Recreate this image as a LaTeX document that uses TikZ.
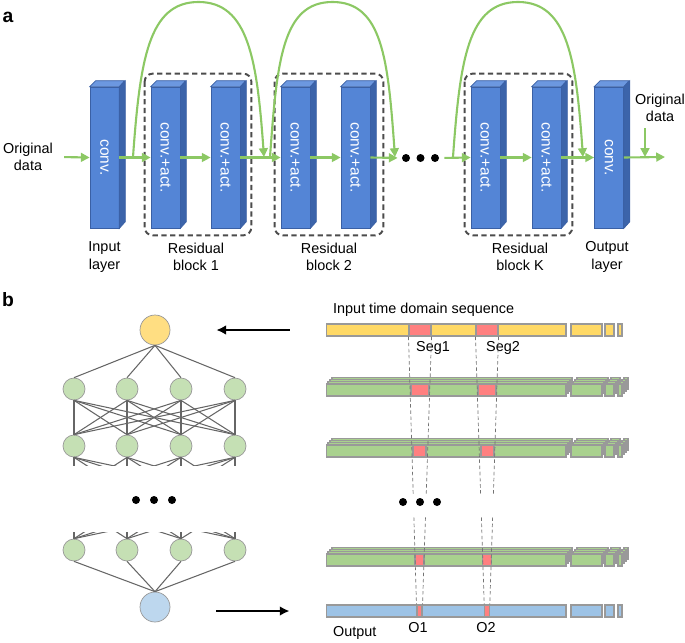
\documentclass[tikz,border=0pt]{standalone}
\usepackage{fontspec}
\setmainfont{Liberation Sans}
\usetikzlibrary{arrows.meta,calc}

\definecolor{blockfront}{RGB}{84,133,214}
\definecolor{blocktop}{RGB}{108,152,224}
\definecolor{blockside}{RGB}{60,100,170}
\definecolor{blockedge}{RGB}{58,96,165}
\definecolor{flowgreen}{RGB}{140,200,100}
\definecolor{unitgreen}{RGB}{197,224,180}
\definecolor{unitblue}{RGB}{189,215,238}
\definecolor{unityellow}{RGB}{255,222,130}
\definecolor{baryellow}{RGB}{255,217,102}
\definecolor{bargreen}{RGB}{169,209,142}
\definecolor{barblue}{RGB}{157,195,230}
\definecolor{barred}{RGB}{255,128,128}

\newcommand{\vlabel}[1]{\rotatebox{-90}{#1}}

\begin{document}
\begin{tikzpicture}[x=0.02cm,y=-0.02cm,
  every node/.style={font=\fontsize{8.2}{10}\selectfont},
  layer/.style={draw=blockedge,fill=blockfront,text=white,inner sep=0,
    minimum width=0.58cm,minimum height=2.82cm,font=\fontsize{8.8}{10}\selectfont},
  flow/.style={draw=flowgreen,line width=1.2pt,-{Triangle[length=5pt,width=5pt]}},
  resbox/.style={draw=black!70,line width=1.1pt,dash pattern=on 3pt off 2pt,rounded corners=4.5pt},
  unit/.style={circle,draw=black!40,fill=unitgreen,minimum size=0.44cm,inner sep=0},
  edge/.style={draw=black!60,line width=0.6pt},
  bigarrow/.style={draw=black,line width=1.4pt,-{Latex[length=5.5pt,width=5.5pt]}},
  bar/.style={draw=black!40,line width=0.6pt,inner sep=0,minimum height=0.24cm},
  rseg/.style={bar,fill=barred},
  guide/.style={draw=black!55,line width=0.4pt,dash pattern=on 2pt off 1.5pt}]
  \useasboundingbox (0,0) rectangle (685,642);

  % ---------------- a ----------------
  \node[font=\bfseries\fontsize{11}{12}\selectfont] (la) at (8,17) {a};

  \node[layer] (inl) at (104.5,157.5) {\vlabel{conv.}};
  \node[layer] (r1a) at (165.5,157.5) {\vlabel{conv.+act.}};
  \node[layer] (r1b) at (225.5,157.5) {\vlabel{conv.+act.}};
  \node[layer] (r2a) at (295.5,157.5) {\vlabel{conv.+act.}};
  \node[layer] (r2b) at (355.5,157.5) {\vlabel{conv.+act.}};
  \node[layer] (rKa) at (485.5,157.5) {\vlabel{conv.+act.}};
  \node[layer] (rKb) at (546.5,157.5) {\vlabel{conv.+act.}};
  \node[layer] (outl) at (609,157.5) {\vlabel{conv.}};

  % 3d faces of the layers
  \foreach \n in {inl,r1a,r1b,r2a,r2b,rKa,rKb,outl} {
    \filldraw[fill=blocktop,draw=blockedge,line width=0.4pt]
      (\n.north west) -- ++(6,-6) -- ++(29,0) -- (\n.north east) -- cycle;
    \filldraw[fill=blockside,draw=blockedge,line width=0.4pt]
      (\n.north east) -- ++(6,-6) -- ++(0,141) -- (\n.south east) -- cycle;
  }

  % residual blocks
  \draw[resbox] ($(r1a.north west)+(-6,-13)$) rectangle ($(r1b.south east)+(11,7)$);
  \draw[resbox] ($(r2a.north west)+(-6,-13)$) rectangle ($(r2b.south east)+(13,7)$);
  \draw[resbox] ($(rKa.north west)+(-6,-13)$) rectangle ($(rKb.south east)+(11,7)$);

  \node[fill=black,circle,minimum size=0.16cm,inner sep=0] (d1) at (406,158) {};
  \node[fill=black,circle,minimum size=0.16cm,inner sep=0] (d2) at (420.5,158) {};
  \node[fill=black,circle,minimum size=0.16cm,inner sep=0] (d3) at (435,158) {};

  \node[align=center] (orig) at (28,157) {Original\\data};
  \node[align=center] (odata) at (660,108) {Original\\data};

  \coordinate (outend) at (665,157);
  \coordinate (join) at (645,157);
  \coordinate (k1s) at (133,157);
  \coordinate (k1e) at (264,157);
  \coordinate (k2s) at (270,157);
  \coordinate (k2e) at (395,157);
  \coordinate (k3s) at (453,157);
  \coordinate (k3e) at (583,157);

  \draw[flow,shorten <=0.1cm] (orig.east) -- (inl.west);
  \draw[flow] (inl.east) -- (r1a.west);
  \draw[flow] (r1a.east) -- (r1b.west);
  \draw[flow] (r1b.east) -- (r2a.west);
  \draw[flow] (r2a.east) -- (r2b.west);
  \draw[flow,shorten >=0.08cm] (r2b.east) -- (d1.west);
  \draw[flow,shorten <=0.1cm] (d3.east) -- (rKa.west);
  \draw[flow] (rKa.east) -- (rKb.west);
  \draw[flow] (rKb.east) -- (outl.west);
  \draw[flow] (outl.east) -- (outend);
  \draw[flow] (join |- odata.south) -- (join);

  % skip connections
  \foreach \s/\e in {k1s/k1e,k2s/k2e,k3s/k3e}
    \draw[flow] (\s) .. controls +(7,-97) and +(-50,0) .. ($(\s)!0.5!(\e)+(0,-155)$)
      .. controls +(50,0) and +(-7,-97) .. (\e);

  \node[align=center] (lin) at (104.5,257) {Input\\layer};
  \node[align=center] (lr1) at (196,257) {Residual\\block 1};
  \node[align=center] (lr2) at (329,257) {Residual\\block 2};
  \node[align=center] (lrK) at (520,257) {Residual\\block K};
  \node[align=center] (lout) at (607,257) {Output\\layer};

  % ---------------- b ----------------
  \node[font=\bfseries\fontsize{11}{12}\selectfont] (lb) at (8,300) {b};

  \node[unit,fill=unityellow,minimum size=0.6cm] (top) at (155,330) {};
  \node[unit,fill=unitblue,minimum size=0.6cm] (bot) at (155,607) {};
  \foreach \i/\x in {1/74,2/127,3/181,4/235} {
    \node[unit] (a\i) at (\x,389) {};
    \node[unit] (b\i) at (\x,446) {};
    \node[unit] (c\i) at (\x,550) {};
  }
  \foreach \i in {1,...,4} {
    \draw[edge] (top.south) -- (a\i.north);
    \draw[edge] (c\i.south) -- (bot.north);
    \foreach \j in {1,...,4}
      \draw[edge] (a\i.south) -- (b\j.north);
  }
  \begin{scope}
    \clip (40,450) rectangle (280,465);
    \foreach \i in {1,...,4}
      \foreach \j in {1,...,4}
        \draw[edge] (b\i.south) -- ($(b\j.north)+(0,57)$);
  \end{scope}
  \begin{scope}
    \clip (40,532) rectangle (280,545);
    \foreach \i in {1,...,4}
      \foreach \j in {1,...,4}
        \draw[edge] ($(c\i.south)+(0,-57)$) -- (c\j.north);
  \end{scope}
  \foreach \x in {136,154,172}
    \fill (\x,500) circle (4);

  % sequences
  \node[anchor=west] (tin) at (327,310) {Input time domain sequence};
  \node[bar,fill=baryellow,minimum width=4.8cm] (seq) at (446,330) {};
  \foreach \a/\b in {571/602,605/614,618/622}
    \draw[bar,fill=baryellow] (\a,324) rectangle (\b,336);
  \node[rseg,minimum width=0.44cm] (seg1) at (420,330) {};
  \node[rseg,minimum width=0.44cm] (seg2) at (487,330) {};
  \node (tseg1) at (433,348) {Seg1};
  \node (tseg2) at (503,348) {Seg2};

  \foreach \y/\n in {390/g1,451/g2,560/g3} {
    \foreach \k in {3,2,1}
      \foreach \a/\b in {326/566,571/602,605/614,618/622}
        \draw[bar,fill=bargreen] (\a+2*\k,\y-6-2.3*\k) rectangle (\b+2*\k,\y+6-2.3*\k);
    \foreach \a/\b in {571/602,605/614,618/622}
      \draw[bar,fill=bargreen] (\a,\y-6) rectangle (\b,\y+6);
    \node[bar,fill=bargreen,minimum width=4.8cm] (\n) at (446,\y) {};
  }
  \node[rseg,minimum width=0.36cm] (g1s1) at (420,390) {};
  \node[rseg,minimum width=0.36cm] (g1s2) at (487,390) {};
  \node[rseg,minimum width=0.26cm] (g2s1) at (419.5,451) {};
  \node[rseg,minimum width=0.26cm] (g2s2) at (487.5,451) {};
  \node[rseg,minimum width=0.18cm] (g3s1) at (419.5,560) {};
  \node[rseg,minimum width=0.18cm] (g3s2) at (487,560) {};

  \foreach \x in {403,420,437}
    \fill (\x,502) circle (4);

  \node[bar,fill=barblue,minimum width=4.8cm] (obar) at (446,611) {};
  \foreach \a/\b in {571/602,605/614,618/622}
    \draw[bar,fill=barblue] (\a,605) rectangle (\b,617);
  \node[rseg,minimum width=0.1cm] (o1) at (419.5,611) {};
  \node[rseg,minimum width=0.09cm] (o2) at (487,611) {};
  \node[anchor=west] (tout) at (327,633) {Output};
  \node (to1) at (418,628) {O1};
  \node (to2) at (486,628) {O2};

  % receptive field guides
  \foreach \s/\o in {seg1/o1,seg2/o2} {
    \draw[guide] (\s.south west) -- ($(\s.south west)!0.586!(\o.north west)$)
      ($(\s.south west)!0.675!(\o.north west)$) -- (\o.north west);
    \draw[guide] (\s.south east) -- ($(\s.south east)!0.586!(\o.north east)$)
      ($(\s.south east)!0.675!(\o.north east)$) -- (\o.north east);
  }

  \draw[bigarrow,shorten <=0.72cm,shorten >=0.92cm] (seq.west) -- (seq.west -| top.east);
  \draw[bigarrow,shorten <=0.92cm,shorten >=0.72cm] (bot.east |- obar.west) -- (obar.west);
\end{tikzpicture}
\end{document}
